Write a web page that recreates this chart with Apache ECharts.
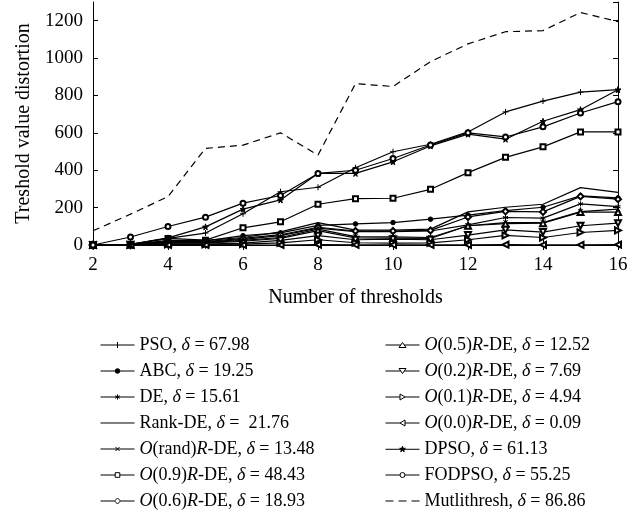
<!DOCTYPE html>
<html>
<head>
<meta charset="utf-8">
<script src="https://cdn.jsdelivr.net/npm/echarts@6/dist/echarts.min.js"></script>
<style>html,body{margin:0;padding:0;background:#fff;}#c{width:643px;height:518px;}</style>
</head>
<body>
<div id="c"></div>
<script>
const thresholds = [2, 3, 4, 5, 6, 7, 8, 9, 10, 11, 12, 13, 14, 15, 16];
const xTicks = [2, 4, 6, 8, 10, 12, 14, 16];
const yTicks = [0, 200, 400, 600, 800, 1000, 1200];

const PSO    = [0, 3, 35, 64, 167, 285, 309, 413, 499, 539, 605, 712, 770, 818, 831];
const ABC    = [0, 2, 20, 22, 50, 65, 105, 113, 120, 138, 160, 184, 202, 263, 252];
const DE     = [0, 1, 15, 15, 30, 50, 90, 72, 72, 75, 108, 147, 144, 220, 205];
const RankDE = [0, 2, 25, 25, 40, 70, 120, 80, 80, 85, 177, 202, 218, 307, 282];
const Orand  = [0, 1, 12, 12, 25, 40, 85, 45, 43, 40, 103, 120, 120, 179, 192];
const O09    = [0, 3, 35, 26, 92, 124, 218, 248, 250, 298, 387, 469, 525, 605, 605];
const O06    = [0, 2, 18, 18, 35, 55, 95, 75, 75, 78, 150, 180, 177, 260, 245];
const O05    = [0, 1, 10, 10, 20, 35, 77, 38, 37, 35, 103, 114, 117, 176, 176];
const O02    = [0, 1, 5, 5, 10, 25, 50, 28, 31, 28, 53, 81, 69, 103, 117];
const O01    = [0, 0, 3, 3, 5, 11, 28, 12, 10, 11, 28, 51, 40, 67, 78];
const O00    = [0, 0, 0, 0, 0, 0, 2, 1, 1, 1, 1, 2, 1, 1, 2];
const DPSO   = [0, 3, 38, 97, 192, 241, 383, 383, 445, 530, 593, 566, 662, 724, 831];
const FODPSO = [0, 43, 99, 149, 224, 265, 383, 400, 463, 535, 600, 578, 632, 706, 767];
const Multi  = [76, 165, 259, 517, 534, 600, 481, 863, 848, 981, 1076, 1141, 1147, 1244, 1195];

const names = ['PSO', 'ABC', 'DE', 'Rank-DE', 'O(rand)R-DE', 'O(0.9)R-DE', 'O(0.6)R-DE',
               'O(0.5)R-DE', 'O(0.2)R-DE', 'O(0.1)R-DE', 'O(0.0)R-DE', 'DPSO', 'FODPSO', 'Mutlithresh'];
const labels = ['PSO', 'ABC', 'DE', 'Rank-DE', '{i|O}(rand){i|R}-DE', '{i|O}(0.9){i|R}-DE', '{i|O}(0.6){i|R}-DE',
                '{i|O}(0.5){i|R}-DE', '{i|O}(0.2){i|R}-DE', '{i|O}(0.1){i|R}-DE', '{i|O}(0.0){i|R}-DE', 'DPSO', 'FODPSO', 'Mutlithresh'];
const deltas = ['67.98', '19.25', '15.61', ' 21.76', '13.48', '48.43', '18.93',
                '12.52', '7.69', '4.94', '0.09', '61.13', '55.25', '86.86'];
const values = [PSO, ABC, DE, RankDE, Orand, O09, O06, O05, O02, O01, O00, DPSO, FODPSO, Multi];

/* marker styles */
const PLUS = 'path://M0,5L10,5M5,0L5,10';
const CROSS = 'path://M1,1L9,9M1,9L9,1';
const AST = 'path://M5,0L5,10M0.7,2.5L9.3,7.5M0.7,7.5L9.3,2.5';
const STAR = 'path://M50,0L61,35L98,35L68,57L79,91L50,70L21,91L32,57L2,35L39,35Z';
const symbols = [
  {s: PLUS, size: 6, rot: 0},
  {s: 'circle', size: 4.5, rot: 0},
  {s: AST, size: 5, rot: 0},
  {s: 'none', size: 0, rot: 0},
  {s: CROSS, size: 4.5, rot: 0},
  {s: 'emptyRect', size: 5, rot: 0},
  {s: 'emptyDiamond', size: 6, rot: 0},
  {s: 'emptyTriangle', size: 6, rot: 0},
  {s: 'emptyTriangle', size: 6, rot: 180},
  {s: 'emptyTriangle', size: 6, rot: -90},
  {s: 'emptyTriangle', size: 6, rot: 90},
  {s: STAR, size: 6, rot: 0},
  {s: 'emptyCircle', size: 5, rot: 0},
  {s: 'none', size: 0, rot: 0}
];

/* legend icons: line + marker, drawn in a 34 x 6 box */
const LINE = 'M0,3L14.5,3M19.5,3L34,3';
const legendIcons = [
  {p: 'M0,3L34,3M17,0L17,6', fill: '#000'},
  {p: 'M0,3L34,3M19.3,3A2.3,2.3,0,1,1,14.7,3A2.3,2.3,0,1,1,19.3,3Z', fill: '#000'},
  {p: 'M0,3L34,3M17,0.4L17,5.6M14.7,1.7L19.3,4.3M14.7,4.3L19.3,1.7', fill: '#000'},
  {p: 'M0,3L34,3L34,3.01', fill: '#fff'},
  {p: 'M0,3L34,3M15,1L19,5M15,5L19,1', fill: '#000'},
  {p: 'M0,3L14.7,3M19.3,3L34,3M14.7,0.7L19.3,0.7L19.3,5.3L14.7,5.3Z', fill: '#fff'},
  {p: 'M0,3L14,3M20,3L34,3M17,0L20,3L17,6L14,3Z', fill: '#fff'},
  {p: 'M0,3L15.25,3M18.75,3L34,3M17,0.5L20.5,5.5L13.5,5.5Z', fill: '#fff'},
  {p: 'M0,3L15.25,3M18.75,3L34,3M13.5,0.5L20.5,0.5L17,5.5Z', fill: '#fff'},
  {p: 'M0,3L14.5,3M19.5,3L34,3M14.5,0L19.5,3L14.5,6Z', fill: '#fff'},
  {p: 'M0,3L14.5,3M19.5,3L34,3M19.5,0L14.5,3L19.5,6Z', fill: '#fff'},
  {p: 'M0,3L34,3M17,0L17.705,2.029L19.853,2.073L18.141,3.371L18.763,5.427L17,4.2L15.237,5.427L15.859,3.371L14.147,2.073L16.295,2.029Z', fill: '#000'},
  {p: 'M0,3L14.5,3M19.5,3L34,3M19.5,3A2.5,2.5,0,1,1,14.5,3A2.5,2.5,0,1,1,19.5,3Z', fill: '#fff'},
  {p: 'M0,3L8,3M13,3L21,3M26,3L34,3L34,3.01', fill: '#fff'}
];

const FONT = '"Liberation Serif", "DejaVu Serif", serif';

const series = names.map((n, k) => ({
  name: n,
  type: 'line',
  xAxisIndex: 0,
  yAxisIndex: 0,
  data: thresholds.map((t, i) => [t, values[k][i]]),
  symbol: symbols[k].s,
  symbolSize: symbols[k].size,
  symbolRotate: symbols[k].rot,
  showSymbol: symbols[k].s !== 'none',
  lineStyle: {color: '#000', width: 1.2, type: n === 'Mutlithresh' ? [7, 5] : 'solid'},
  itemStyle: {color: '#000', borderColor: '#000', borderWidth: 1},
  emphasis: {disabled: true},
  z: 2
}));

const legendItem = k => ({
  name: names[k],
  icon: 'path://' + legendIcons[k].p,
  itemStyle: {color: legendIcons[k].fill, borderColor: '#000', borderWidth: 1}
});

const legendCommon = {
  type: 'plain',
  orient: 'vertical',
  itemWidth: 34,
  itemHeight: 7,
  itemGap: 6,
  height: 200,
  symbolKeepAspect: true,
  selectedMode: false,
  textStyle: {
    fontFamily: FONT, fontSize: 18, color: '#000', lineHeight: 20,
    rich: {i: {fontFamily: FONT, fontSize: 18, fontStyle: 'italic', color: '#000', lineHeight: 20}}
  },
  formatter: function (name) {
    const k = names.indexOf(name);
    return labels[k] + ', {i|δ} = ' + deltas[k];
  }
};

const idx = names.map((n, k) => k);

const option = {
  animation: false,
  backgroundColor: '#fff',
  grid: {left: 93, right: 25, top: 2, bottom: 273, containLabel: false},
  legend: [
    Object.assign({}, legendCommon, {left: 95, top: 330, width: 260, data: idx.slice(0, 7).map(legendItem)}),
    Object.assign({}, legendCommon, {left: 380, top: 330, width: 260, data: idx.slice(7).map(legendItem)})
  ],
  xAxis: [
    {
      type: 'value', min: xTicks[0], max: xTicks[xTicks.length - 1], interval: 2,
      position: 'bottom',
      name: 'Number of thresholds', nameLocation: 'middle', nameGap: 43,
      nameTextStyle: {fontFamily: FONT, fontSize: 20, color: '#000'},
      axisLine: {show: true, lineStyle: {color: '#000', width: 1}},
      axisTick: {show: true, inside: true, length: 5, lineStyle: {color: '#000'}},
      axisLabel: {fontFamily: FONT, fontSize: 19, color: '#000', margin: 11},
      splitLine: {show: false}
    },
    {
      type: 'value', min: xTicks[0], max: xTicks[xTicks.length - 1], interval: 2,
      position: 'top',
      axisLine: {show: true, lineStyle: {color: '#000', width: 1}},
      axisTick: {show: true, inside: true, length: 5, lineStyle: {color: '#000'}},
      axisLabel: {show: false},
      splitLine: {show: false}
    }
  ],
  yAxis: [
    {
      type: 'value', min: yTicks[0], max: 1300, interval: 200,
      position: 'left',
      name: 'Treshold value distortion', nameLocation: 'middle', nameGap: 56,
      nameTextStyle: {fontFamily: FONT, fontSize: 20, color: '#000'},
      axisLine: {show: true, lineStyle: {color: '#000', width: 1}},
      axisTick: {show: true, inside: true, length: 5, lineStyle: {color: '#000'}},
      axisLabel: {fontFamily: FONT, fontSize: 19, color: '#000', margin: 10, showMaxLabel: false,
                  formatter: v => (yTicks.indexOf(v) >= 0 ? String(v) : '')},
      splitLine: {show: false}
    },
    {
      type: 'value', min: yTicks[0], max: 1300, interval: 200,
      position: 'right',
      axisLine: {show: true, lineStyle: {color: '#000', width: 1}},
      axisTick: {show: true, inside: true, length: 5, lineStyle: {color: '#000'}},
      axisLabel: {show: false},
      splitLine: {show: false}
    }
  ],
  series: series
};

const chart = echarts.init(document.getElementById('c'), null, {renderer: 'canvas'});
chart.setOption(option);
</script>
</body>
</html>
